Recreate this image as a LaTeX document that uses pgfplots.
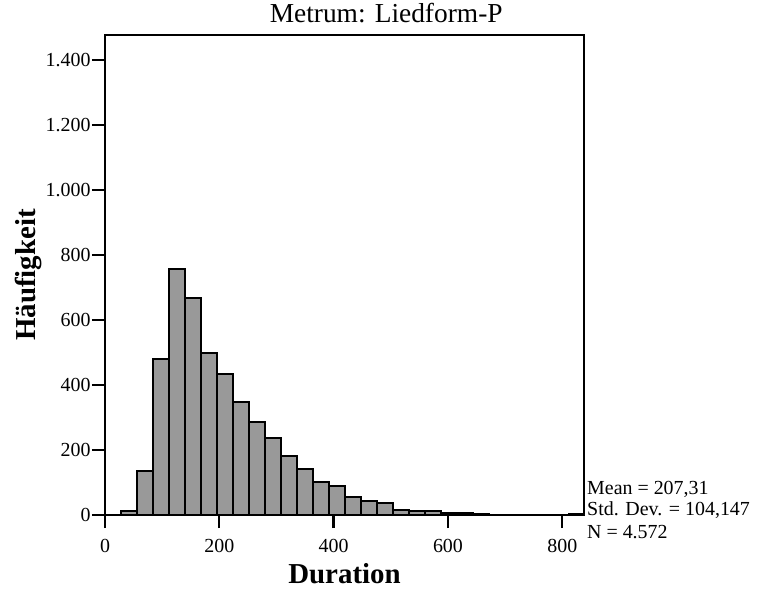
\documentclass[border=0pt]{standalone}
\usepackage{fontspec}
\setmainfont{Liberation Serif}
\usepackage{pgfplots}
\pgfplotsset{compat=1.18}
\definecolor{barfill}{RGB}{153,153,153}
\begin{document}
\begin{tikzpicture}
\useasboundingbox (-105bp,-75bp) rectangle (652bp,515bp);
\begin{axis}[
  at={(0bp,0bp)}, anchor=south west,
  scale only axis, width=479bp, height=480bp,
  xmin=0, xmax=838, ymin=0, ymax=1477,
  xtick={0,200,400,600,800},
  ytick={0,200,400,600,800,1000,1200,1400},
  tick pos=left, tick align=outside,
  major tick length=13bp,
  axis line style={line width=2.3bp},
  every tick/.style={line width=2.3bp, black},
  /pgf/number format/.cd, 1000 sep={.}, assume math mode=true,
  /pgfplots/.cd,
  tick label style={font=\fontsize{20}{22}\selectfont},
  yticklabel style={xshift=2bp},
  xticklabel style={yshift=-8bp},
  title={Metrum: Liedform-P},
  title style={font=\fontsize{27.5}{30}\selectfont, at={(0.587,1)}, anchor=base, yshift=7bp},
  xlabel={\textbf{Duration}},
  xlabel style={font=\fontsize{29}{32}\selectfont, at={(0.5,0)}, anchor=base, yshift=-68bp},
  ylabel={\textbf{Häufigkeit}},
  ylabel style={font=\fontsize{29}{32}\selectfont, at={(-0.1461,0.5)}, anchor=base, rotate=0},
]
\addplot[ybar interval, fill=barfill, draw=black, line width=2bp] coordinates {
(0,0) (28,12) (56,135) (84,481) (112,756) (140,669) (168,500) (196,433)
(224,349) (252,287) (280,238) (308,182) (336,143) (364,103) (392,90)
(420,56) (448,44) (476,36) (504,15) (532,12) (560,12) (588,7) (616,7)
(644,3) (672,1) (700,0) (728,0) (756,0) (784,1) (812,2) (840,2)
};
\end{axis}
\begin{scope}[font=\fontsize{20}{22}\selectfont]
\node[anchor=base west, inner sep=0pt] at (482bp,21bp) {Mean = 207,31};
\node[anchor=base west, inner sep=0pt] at (482bp,0bp) {Std. Dev. = 104,147};
\node[anchor=base west, inner sep=0pt] at (482bp,-23bp) {N = 4.572};
\end{scope}
\end{tikzpicture}
\end{document}
